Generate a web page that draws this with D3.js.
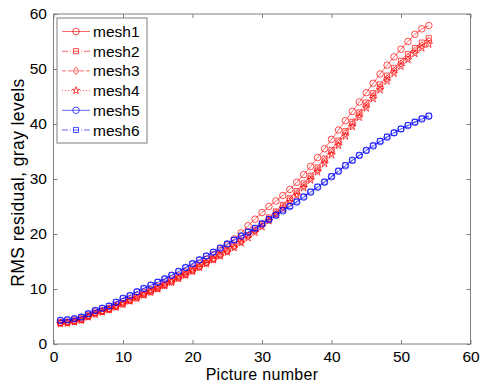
<!DOCTYPE html>
<html>
<head>
<meta charset="utf-8">
<script src="https://cdn.jsdelivr.net/npm/d3@7"></script>
<style>
  body { margin: 0; background: #fff; }
  svg { display: block; font-family: Arial, "Liberation Sans", sans-serif; }
</style>
</head>
<body>
<svg id="chart" width="480" height="388"></svg>
<script>
// picture numbers 1..54
const pictures = d3.range(1, 55)

const mesh1 = [3.9, 4.0, 4.3, 4.6, 5.2, 5.8, 6.1, 6.5, 7.1, 7.7, 8.2, 8.8, 9.4, 9.9, 10.5, 11.1, 11.8, 12.4, 13.1, 13.8,
  14.6, 15.4, 16.2, 17.1, 18.0, 19.1, 20.2, 21.5, 22.7, 23.9, 25.0, 26.0, 27.0, 28.1, 29.4, 30.8, 32.3, 33.9, 35.5, 37.2,
  38.9, 40.6, 42.3, 44.0, 45.7, 47.4, 49.1, 50.7, 52.2, 53.6, 55.0, 56.3, 57.3, 57.9]
const mesh2 = [3.8, 3.9, 4.1, 4.4, 5.0, 5.6, 5.9, 6.3, 6.8, 7.4, 7.9, 8.5, 9.0, 9.6, 10.1, 10.7, 11.4, 12.1, 12.7, 13.4,
  14.1, 14.8, 15.5, 16.3, 17.0, 17.9, 18.8, 19.8, 20.8, 21.9, 23.0, 24.1, 25.3, 26.5, 27.8, 29.2, 30.6, 32.1, 33.7, 35.3,
  37.0, 38.7, 40.4, 42.1, 43.9, 45.6, 47.2, 48.8, 50.2, 51.5, 52.7, 53.8, 54.8, 55.6]
const mesh3 = [3.8, 3.9, 4.1, 4.4, 5.0, 5.5, 5.9, 6.3, 6.8, 7.3, 7.9, 8.4, 9.0, 9.5, 10.1, 10.7, 11.3, 12.0, 12.6, 13.3,
  14.0, 14.7, 15.4, 16.1, 16.9, 17.7, 18.6, 19.6, 20.6, 21.6, 22.7, 23.8, 25.0, 26.2, 27.4, 28.8, 30.2, 31.7, 33.3, 34.9,
  36.6, 38.3, 40.0, 41.7, 43.4, 45.1, 46.7, 48.3, 49.7, 51.0, 52.2, 53.3, 54.3, 55.1]
const mesh4 = [3.7, 3.8, 4.0, 4.3, 4.9, 5.4, 5.8, 6.2, 6.7, 7.2, 7.8, 8.3, 8.9, 9.4, 10.0, 10.6, 11.2, 11.9, 12.5, 13.2,
  13.9, 14.6, 15.3, 16.0, 16.7, 17.5, 18.4, 19.3, 20.3, 21.3, 22.4, 23.5, 24.6, 25.8, 27.0, 28.4, 29.8, 31.3, 32.8, 34.4,
  36.1, 37.8, 39.5, 41.2, 42.9, 44.6, 46.2, 47.8, 49.2, 50.5, 51.7, 52.8, 53.8, 54.5]
const mesh5 = [4.3, 4.4, 4.6, 4.9, 5.5, 6.1, 6.5, 6.9, 7.6, 8.3, 8.8, 9.5, 10.1, 10.7, 11.2, 11.8, 12.5, 13.2, 13.9, 14.6,
  15.3, 16.0, 16.7, 17.4, 18.2, 18.9, 19.6, 20.3, 21.0, 21.8, 22.6, 23.4, 24.2, 25.0, 25.8, 26.7, 27.6, 28.5, 29.4, 30.4,
  31.4, 32.4, 33.4, 34.3, 35.2, 36.0, 36.8, 37.6, 38.4, 39.1, 39.7, 40.3, 40.9, 41.4]
const mesh6 = [4.3, 4.4, 4.6, 4.9, 5.5, 6.1, 6.5, 6.9, 7.6, 8.3, 8.8, 9.5, 10.1, 10.7, 11.3, 11.9, 12.5, 13.2, 13.9, 14.6,
  15.3, 16.0, 16.7, 17.5, 18.2, 18.9, 19.7, 20.4, 21.1, 21.9, 22.7, 23.5, 24.3, 25.1, 25.9, 26.8, 27.7, 28.6, 29.5, 30.5,
  31.5, 32.5, 33.4, 34.3, 35.2, 36.1, 36.9, 37.7, 38.4, 39.1, 39.8, 40.4, 41.0, 41.5]

const seriesNames = ['mesh1', 'mesh2', 'mesh3', 'mesh4', 'mesh5', 'mesh6']
const seriesValues = [mesh1, mesh2, mesh3, mesh4, mesh5, mesh6]
const seriesColors = ['#ff0000', '#ff0000', '#ff0000', '#ff0000', '#0000ff', '#0000ff']
const seriesDash = [null, '6,2,1,2', '4,2', '1,2', null, '6,2,1,2']
const seriesMarker = ['circle', 'square', 'diamond', 'star', 'circle', 'square']

const xTicks = [0, 10, 20, 30, 40, 50, 60]
const yTicks = [0, 10, 20, 30, 40, 50, 60]

const svg = d3.select('#chart')
const margin = { left: 53.5, right: 9.5, top: 14, bottom: 44 }
const W = 480, H = 388

const x = d3.scaleLinear().domain([0, 60]).range([margin.left, W - margin.right])
const y = d3.scaleLinear().domain([0, 60]).range([H - margin.bottom, margin.top])

const axisColor = '#7f7f7f'

// plot box
svg.append('rect')
    .attr('x', x(0)).attr('y', y(60))
    .attr('width', x(60) - x(0)).attr('height', y(0) - y(60))
    .attr('fill', 'none').attr('stroke', axisColor).attr('stroke-width', 1)

function styleAxis(g) {
    g.select('.domain').remove()
    g.selectAll('.tick line').attr('stroke', axisColor)
    g.selectAll('.tick text').attr('fill', '#000').style('font-size', '15.5px')
}

svg.append('g')
    .attr('transform', `translate(0,${y(0)})`)
    .call(d3.axisBottom(x).tickValues(xTicks).tickSizeInner(-4).tickSizeOuter(0).tickPadding(7))
    .call(styleAxis)
svg.append('g')
    .attr('transform', `translate(0,${y(60)})`)
    .call(d3.axisTop(x).tickValues(xTicks).tickSizeInner(-4).tickSizeOuter(0).tickFormat(''))
    .call(styleAxis)
svg.append('g')
    .attr('transform', `translate(${x(0)},0)`)
    .call(d3.axisLeft(y).tickValues(yTicks).tickSizeInner(-4).tickSizeOuter(0).tickPadding(6.5))
    .call(styleAxis)
svg.append('g')
    .attr('transform', `translate(${x(60)},0)`)
    .call(d3.axisRight(y).tickValues(yTicks).tickSizeInner(-4).tickSizeOuter(0).tickFormat(''))
    .call(styleAxis)

// axis labels
svg.append('text')
    .attr('x', (x(0) + x(60)) / 2).attr('y', 379.5)
    .attr('text-anchor', 'middle').style('font-size', '16px').style('letter-spacing', '0.3px')
    .text('Picture number')
svg.append('text')
    .attr('transform', `translate(24,182.5) rotate(-90)`)
    .attr('text-anchor', 'middle').style('font-size', '17.5px').style('letter-spacing', '0.4px')
    .text('RMS residual, gray levels')

function markerPath(type) {
    if (type === 'circle') return d3.symbol(d3.symbolCircle, 34)()
    if (type === 'square') return d3.symbol(d3.symbolSquare, 26)()
    if (type === 'diamond') return 'M0,-3.6L3.2,0L0,3.6L-3.2,0Z'
    return d3.symbol(d3.symbolStar, 18)()
}

const line = d3.line().x((d, i) => x(pictures[i])).y(d => y(d))

const plot = svg.append('g')
seriesValues.forEach((vals, k) => {
    const g = plot.append('g').attr('class', seriesNames[k])
    g.append('path')
        .datum(vals)
        .attr('d', line)
        .attr('fill', 'none')
        .attr('stroke', seriesColors[k])
        .attr('stroke-width', 0.6)
        .attr('stroke-dasharray', seriesDash[k])
    g.selectAll('path.mk')
        .data(vals)
        .enter()
        .append('path')
        .attr('class', 'mk')
        .attr('d', markerPath(seriesMarker[k]))
        .attr('transform', (d, i) => `translate(${x(pictures[i])},${y(d)})`)
        .attr('fill', 'none')
        .attr('stroke', seriesColors[k])
        .attr('stroke-width', 0.7)
})

// legend
const leg = svg.append('g')
leg.append('rect')
    .attr('x', 57).attr('y', 18).attr('width', 90).attr('height', 125)
    .attr('fill', '#fff').attr('stroke', axisColor).attr('stroke-width', 1)

seriesNames.forEach((name, k) => {
    const ly = 31.5 + k * 19.7
    leg.append('line')
        .attr('x1', 62).attr('x2', 90).attr('y1', ly).attr('y2', ly)
        .attr('stroke', seriesColors[k]).attr('stroke-width', 0.6)
        .attr('stroke-dasharray', seriesDash[k])
    leg.append('path')
        .attr('d', markerPath(seriesMarker[k]))
        .attr('transform', `translate(76,${ly})`)
        .attr('fill', 'none').attr('stroke', seriesColors[k]).attr('stroke-width', 0.7)
    leg.append('text')
        .attr('x', 93).attr('y', ly + 5.5)
        .style('font-size', '15.5px')
        .text(name)
})
</script>
</body>
</html>
